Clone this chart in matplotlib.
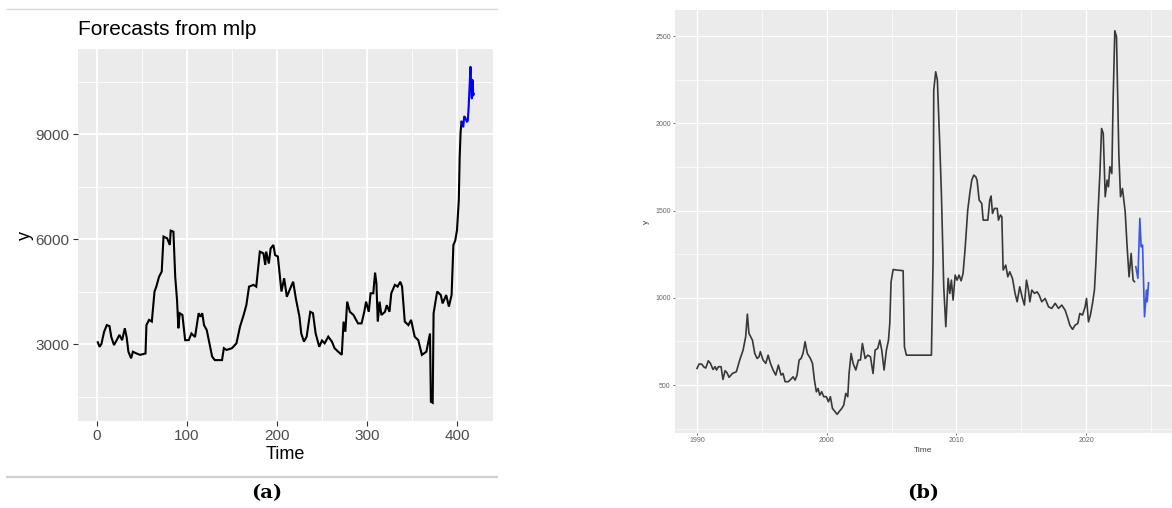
import matplotlib.pyplot as plt
from matplotlib.lines import Line2D

# ---------------------------------------------------------------------------
# Data
# ---------------------------------------------------------------------------

# (a) Forecasts from mlp: observed series
TIME_A = [1, 3, 5, 8, 11, 14, 16, 19, 22, 25, 28, 31, 33, 35, 38, 40, 44, 48,
          54, 55, 58, 61, 64, 66, 69, 72, 74, 78, 81, 82, 85, 87, 89, 90.5, 92,
          95, 98, 102, 105, 109, 113, 115, 117, 119, 122, 125, 128, 131, 139,
          141, 144, 150, 155, 159, 163, 166, 169, 174, 177, 181, 185, 187, 188,
          191, 193, 196, 198, 201, 205, 208, 211, 214, 218, 221, 225, 227, 230,
          233, 237, 240, 243, 247, 250, 253, 257, 261, 264, 268, 272, 274, 276,
          278, 281, 285, 290, 294, 297, 299, 302, 304, 307, 309, 310.5, 312,
          314, 316, 320, 322, 325, 327, 331, 334, 337, 339, 342, 346, 349, 353,
          357, 361, 366, 370, 371, 373, 374, 378, 382, 384, 388, 391, 394, 396,
          398, 400, 402, 403, 404, 405]
Y_A = [3050, 2920, 3000, 3350, 3540, 3510, 3200, 2970, 3110, 3260, 3110, 3450,
       3200, 2780, 2590, 2780, 2730, 2690, 2730, 3540, 3690, 3640, 4500, 4640,
       4920, 5070, 6070, 6020, 5830, 6240, 6210, 4920, 4260, 3450, 3880, 3830,
       3110, 3110, 3300, 3200, 3880, 3780, 3880, 3540, 3400, 3020, 2640, 2540,
       2540, 2880, 2830, 2880, 3020, 3500, 3830, 4110, 4640, 4690, 4640, 5640,
       5590, 5260, 5640, 5300, 5730, 5830, 5540, 5500, 4500, 4880, 4350, 4540,
       4780, 4300, 3780, 3300, 3070, 3210, 3920, 3880, 3300, 2920, 3100, 3020,
       3210, 3070, 2880, 2780, 2690, 3640, 3350, 4210, 3920, 3830, 3590, 3590,
       3920, 4210, 3920, 4450, 4450, 5040, 4730, 3640, 4210, 3830, 3920, 4110,
       3920, 4450, 4690, 4640, 4780, 4640, 3640, 3540, 3690, 3210, 3110, 2690,
       2780, 3300, 1350, 1320, 3880, 4500, 4400, 4160, 4400, 4070, 4400, 5830,
       5950, 6250, 7110, 8350, 9050, 9350]
# (a) forecast
TIME_A_FC = [405, 406, 407, 408, 409, 411, 412, 413, 415, 415.5, 416.5, 417,
             417.5, 418, 418.5]
Y_A_FC = [9350, 9250, 9210, 9500, 9480, 9350, 9380, 9800, 10920, 10500, 10020,
          10550, 10500, 10100, 10150]

# (b) observed series (decimal years)
YEAR_B = [1990.0, 1990.15, 1990.36, 1990.5, 1990.67, 1990.87, 1991.03, 1991.23,
          1991.39, 1991.5, 1991.65, 1991.85, 1992.0, 1992.16, 1992.31, 1992.47,
          1992.72, 1993.03, 1993.29, 1993.55, 1993.75, 1993.88, 1994.0, 1994.27,
          1994.45, 1994.63, 1994.78, 1994.88, 1995.09, 1995.3, 1995.48, 1995.66,
          1995.86, 1996.07, 1996.27, 1996.48, 1996.63, 1996.79, 1997.04, 1997.3,
          1997.4, 1997.56, 1997.71, 1997.87, 1998.02, 1998.17, 1998.33, 1998.5,
          1998.74, 1998.9, 1999.05, 1999.2, 1999.33, 1999.46, 1999.61, 1999.77,
          1999.97, 2000.13, 2000.28, 2000.44, 2000.64, 2000.8, 2000.95, 2001.16,
          2001.31, 2001.47, 2001.62, 2001.72, 2001.88, 2002.03, 2002.24, 2002.44,
          2002.6, 2002.75, 2002.96, 2003.16, 2003.37, 2003.57, 2003.73, 2003.93,
          2004.09, 2004.24, 2004.42, 2004.6, 2004.76, 2004.86, 2004.96, 2005.12,
          2005.37, 2005.89, 2005.99, 2006.14, 2008.07, 2008.2, 2008.25, 2008.4,
          2008.53, 2008.71, 2008.84, 2009.02, 2009.18, 2009.36, 2009.49, 2009.61,
          2009.74, 2009.9, 2010.05, 2010.2, 2010.36, 2010.51, 2010.67, 2010.87,
          2011.03, 2011.18, 2011.34, 2011.49, 2011.59, 2011.75, 2011.95, 2012.06,
          2012.42, 2012.57, 2012.67, 2012.78, 2012.93, 2013.14, 2013.24, 2013.39,
          2013.5, 2013.6, 2013.8, 2013.96, 2014.11, 2014.32, 2014.52, 2014.68,
          2014.88, 2015.09, 2015.24, 2015.4, 2015.55, 2015.66, 2015.81, 2016.02,
          2016.22, 2016.38, 2016.58, 2016.84, 2017.1, 2017.35, 2017.61, 2017.87,
          2018.12, 2018.38, 2018.59, 2018.74, 2018.95, 2019.15, 2019.36, 2019.51,
          2019.72, 2019.92, 2020.03, 2020.18, 2020.33, 2020.49, 2020.64, 2020.75,
          2020.9, 2021.06, 2021.19, 2021.32, 2021.47, 2021.62, 2021.72, 2021.83,
          2021.98, 2022.08, 2022.21, 2022.34, 2022.52, 2022.65, 2022.8, 2023.01,
          2023.16, 2023.31, 2023.47, 2023.62, 2023.73]
Y_B = [595, 620, 620, 605, 597, 639, 624, 589, 605, 586, 605, 605, 532, 582, 570,
       544, 566, 576, 643, 700, 777, 906, 796, 757, 681, 652, 662, 691, 643, 624,
       671, 624, 586, 557, 614, 557, 566, 519, 519, 538, 547, 528, 557, 643, 652,
       681, 748, 681, 652, 624, 528, 461, 480, 442, 461, 433, 433, 404, 433, 366,
       347, 332, 347, 366, 385, 452, 433, 566, 681, 624, 586, 643, 643, 738, 652,
       671, 662, 566, 700, 710, 757, 700, 586, 700, 757, 853, 1092, 1162, 1159,
       1155, 719, 671, 671, 1216, 2190, 2295, 2247, 1884, 1598, 1063, 834, 1111,
       1025, 1101, 987, 1130, 1101, 1130, 1097, 1139, 1283, 1502, 1598, 1674,
       1703, 1693, 1674, 1560, 1540, 1445, 1445, 1560, 1583, 1483, 1512, 1512,
       1445, 1474, 1464, 1159, 1187, 1120, 1149, 1111, 1025, 977, 1063, 996, 958,
       1101, 1044, 977, 1044, 1025, 1034, 1015, 977, 996, 948, 939, 968, 939, 958,
       929, 882, 843, 819, 843, 853, 910, 901, 948, 996, 862, 901, 968, 1044,
       1197, 1464, 1712, 1970, 1942, 1579, 1674, 1636, 1751, 1712, 2133, 2530,
       2496, 1827, 1579, 1626, 1493, 1292, 1120, 1254, 1101, 1092]
# (b) forecast
YEAR_B_FC = [2023.83, 2023.99, 2024.14, 2024.24, 2024.35, 2024.5, 2024.66,
             2024.71, 2024.81]
Y_B_FC = [1178, 1111, 1455, 1292, 1302, 891, 1044, 977, 1086]

# ---------------------------------------------------------------------------
# Figure
# ---------------------------------------------------------------------------

plt.rcParams["font.family"] = ["Liberation Sans", "DejaVu Sans"]
W, H = 1172, 508
fig = plt.figure(figsize=(W / 100, H / 100), dpi=100)

PANEL_BG = "#EBEBEB"


def gg_style(ax, label_size, tick_len, tick_pad, major_lw, minor_lw):
    ax.set_facecolor(PANEL_BG)
    for s in ax.spines.values():
        s.set_visible(False)
    ax.grid(True, which="major", color="white", lw=major_lw)
    ax.grid(True, which="minor", color="white", lw=minor_lw)
    ax.set_axisbelow(True)
    ax.tick_params(which="major", length=tick_len, width=0.8, color="#333333",
                   labelcolor="#4D4D4D", labelsize=label_size, pad=tick_pad)
    ax.tick_params(which="minor", length=0)


def px_rect(left, top, right, bottom):
    return [left / W, (H - bottom) / H, (right - left) / W, (bottom - top) / H]


# ---- panel (a) ----
ax1 = fig.add_axes(px_rect(78, 49, 493, 421))
ax1.plot(TIME_A, Y_A, color="black", lw=1.5, solid_joinstyle="miter")
ax1.plot(TIME_A_FC, Y_A_FC, color="#0000FF", lw=1.5)
ax1.set_xlim(-21, 440)
ax1.set_ylim(800, 11430)
ax1.set_xticks([0, 100, 200, 300, 400])
ax1.set_xticks([50, 150, 250, 350], minor=True)
ax1.set_yticks([3000, 6000, 9000])
ax1.set_yticks([1500, 4500, 7500, 10500], minor=True)
gg_style(ax1, 11, 3.5, 2.5, 1.3, 0.6)
ax1.set_xlabel("Time", fontsize=13, labelpad=2)
ax1.set_ylabel("y", fontsize=13, labelpad=1)
ax1.set_title("Forecasts from mlp", loc="left", fontsize=15, pad=10)

# ---- panel (b) ----
ax2 = fig.add_axes(px_rect(675, 10, 1172, 433))
ax2.plot(YEAR_B, Y_B, color="#383838", lw=1.2)
ax2.plot(YEAR_B_FC, Y_B_FC, color="#3a55e8", lw=1.2)
ax2.set_xlim(1988.3, 2026.62)
ax2.set_ylim(225, 2649)
ax2.set_xticks([1990, 2000, 2010, 2020])
ax2.set_xticks([1995, 2005, 2015, 2025], minor=True)
ax2.set_yticks([500, 1000, 1500, 2000, 2500])
ax2.set_yticks([250, 750, 1250, 1750, 2250], minor=True)
gg_style(ax2, 5, 1.5, 1.5, 0.9, 0.45)
ax2.tick_params(which="major", width=0.5, labelcolor="#666666")
ax2.set_xlabel("Time", fontsize=6, color="#444444", labelpad=2)
ax2.set_ylabel("y", fontsize=6, color="#444444", labelpad=4)

# horizontal rules around panel (a)
fig.add_artist(Line2D([7 / W, 497 / W], [1 - 9 / H, 1 - 9 / H],
                      color="#D9D9D9", lw=1.0))
fig.add_artist(Line2D([7 / W, 497 / W], [1 - 477 / H, 1 - 477 / H],
                      color="#D0D0D0", lw=1.6))

# sub-figure captions
for x, lab in [(267, "(a)"), (923, "(b)")]:
    fig.text(x / W, 1 - 493 / H, lab, ha="center", va="center",
             fontsize=14, fontweight="bold", family="DejaVu Serif")

fig.savefig("out.png", dpi=100)
